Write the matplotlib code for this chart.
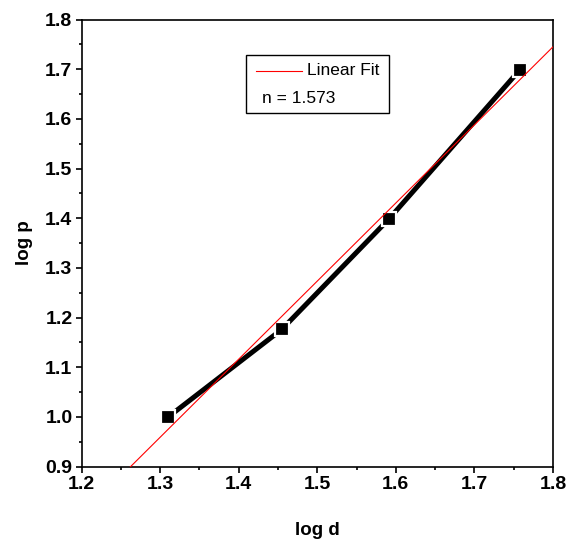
import numpy as np
import matplotlib
matplotlib.use("Agg")
import matplotlib.pyplot as plt
from matplotlib.ticker import MultipleLocator
from matplotlib.patches import Rectangle
from matplotlib.lines import Line2D

# donnees
log_d = [1.3105, 1.4548, 1.591, 1.758]
log_p = [1.0, 1.176, 1.398, 1.699]
n_label = "n = 1.573"

plt.rcParams["font.family"] = ["Liberation Sans", "DejaVu Sans"]

fig = plt.figure(figsize=(5.81, 5.45), dpi=100)
ax = fig.add_axes([0.1403, 0.1440, 0.8115, 0.8202])

# courbe experimentale
ax.plot(log_d, log_p, color="black", lw=3.6, zorder=2, solid_capstyle="butt")
ax.plot(log_d, log_p, ls="none", marker="s", ms=9.8, mfc="black",
        mec="white", mew=1.6, zorder=3)

# ajustement lineaire
slope, icpt = np.polyfit(log_d, log_p, 1)
xf = np.array([1.2, 1.8])
ax.plot(xf, slope * xf + icpt, color="red", lw=0.8, zorder=4)

ax.set_xlim(1.2, 1.8)
ax.set_ylim(0.9, 1.8)
ax.xaxis.set_major_locator(MultipleLocator(0.1))
ax.xaxis.set_minor_locator(MultipleLocator(0.05))
ax.yaxis.set_major_locator(MultipleLocator(0.1))
ax.yaxis.set_minor_locator(MultipleLocator(0.05))
ax.tick_params(which="both", direction="out", top=False, right=False, width=1.2)
ax.tick_params(which="major", length=4.5, pad=2, labelsize=14)
ax.tick_params(which="minor", length=2.3)
for lab in ax.get_xticklabels() + ax.get_yticklabels():
    lab.set_fontweight("bold")
for sp in ax.spines.values():
    sp.set_linewidth(1.2)

ax.set_xlabel("log d", fontsize=13.5, fontweight="bold", labelpad=21)
ax.set_ylabel("log p", fontsize=13.5, fontweight="bold", labelpad=9)

# legende dessinee a la main (style Origin)
ax.add_patch(Rectangle((0.349, 0.791), 0.303, 0.1296, transform=ax.transAxes,
                       fill=False, ec="black", lw=1.0, zorder=5))
ax.add_line(Line2D([0.370, 0.467], [0.885, 0.885], transform=ax.transAxes,
                   color="red", lw=0.8, zorder=5))
ax.text(0.478, 0.885, "Linear Fit", transform=ax.transAxes, fontsize=12.5,
        va="center", ha="left", zorder=5)
ax.text(0.383, 0.824, n_label, transform=ax.transAxes, fontsize=12.5,
        va="center", ha="left", zorder=5)

fig.savefig("out.png", dpi=100)
